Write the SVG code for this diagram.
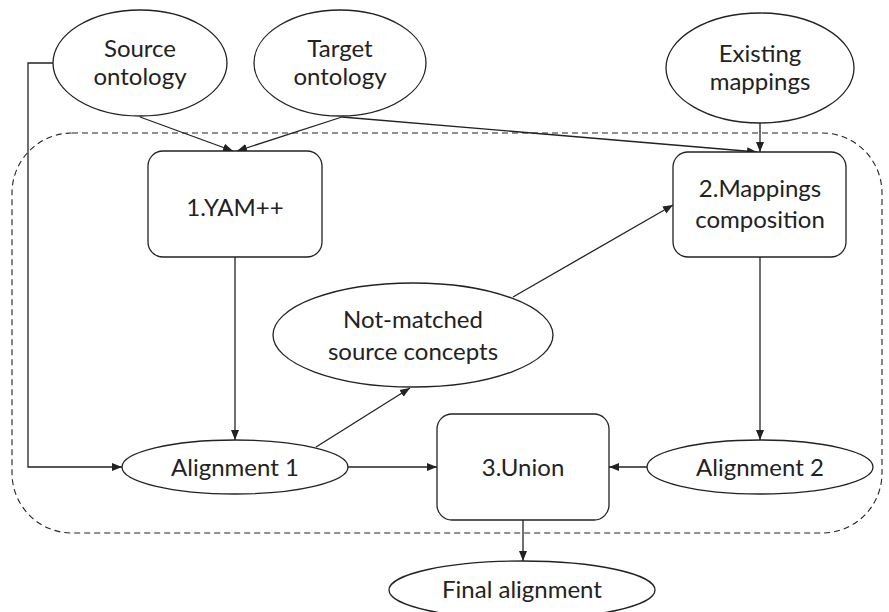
<svg xmlns="http://www.w3.org/2000/svg" width="889" height="612" viewBox="0 0 889 612">
<style>
.n{fill:#fff;stroke:#222;stroke-width:1.3}
.t{font-family:Lato,"Open Sans","Liberation Sans",sans-serif;font-size:24px;fill:#222;text-anchor:middle}
.c{fill:none;stroke:#222;stroke-width:1.3;marker-end:url(#a)}
</style>
<defs>
<marker id="a" viewBox="0 0 10 10" refX="10" refY="5" markerWidth="10" markerHeight="10" markerUnits="userSpaceOnUse" orient="auto">
<path d="M0,1 L10,5 L0,9 Z" fill="#222"/>
</marker>
</defs>
<rect id="container" x="12" y="133" width="870" height="400" rx="60" ry="60" fill="none" stroke="#222" stroke-width="1.1" stroke-dasharray="6,4"/>
<g id="connectors">
<path class="c" d="M140,117 L233,151"/>
<path class="c" d="M342,117 L237,151"/>
<path class="c" d="M342,117 L757,152"/>
<path class="c" d="M760,123 L760,152"/>
<path class="c" d="M53,63 L28,63 L28,467 L122,467"/>
<path class="c" d="M235,257 L235,440"/>
<path class="c" d="M316,447 L410,388"/>
<path class="c" d="M513,297 L673,205"/>
<path class="c" d="M348,467 L437,467"/>
<path class="c" d="M647,467 L609,467"/>
<path class="c" d="M760,257 L760,440"/>
<path class="c" d="M523,520 L523,561"/>
</g>
<g id="source">
<ellipse class="n" cx="140" cy="63" rx="87" ry="53"/>
<text class="t" x="140" y="57">Source</text>
<text class="t" x="140" y="85">ontology</text>
</g>
<g id="target">
<ellipse class="n" cx="340" cy="63" rx="86" ry="53"/>
<text class="t" x="340" y="57">Target</text>
<text class="t" x="340" y="85">ontology</text>
</g>
<g id="existing">
<ellipse class="n" cx="760" cy="68" rx="94" ry="55"/>
<text class="t" x="760" y="62">Existing</text>
<text class="t" x="760" y="90">mappings</text>
</g>
<g id="yam">
<rect class="n" x="148" y="151" width="174" height="106" rx="15" ry="15"/>
<text class="t" x="235" y="216">1.YAM++</text>
</g>
<g id="composition">
<rect class="n" x="673" y="152" width="173" height="105" rx="15" ry="15"/>
<text class="t" x="760" y="197">2.Mappings</text>
<text class="t" x="760" y="228">composition</text>
</g>
<g id="notmatched">
<ellipse class="n" cx="413" cy="335" rx="140" ry="52"/>
<text class="t" x="413" y="328">Not-matched</text>
<text class="t" x="413" y="360">source concepts</text>
</g>
<g id="alignment1">
<ellipse class="n" cx="235" cy="467" rx="113" ry="27"/>
<text class="t" x="235" y="476">Alignment 1</text>
</g>
<g id="union">
<rect class="n" x="437" y="414" width="172" height="106" rx="15" ry="15"/>
<text class="t" x="523" y="476">3.Union</text>
</g>
<g id="alignment2">
<ellipse class="n" cx="760" cy="467" rx="113" ry="27"/>
<text class="t" x="760" y="476">Alignment 2</text>
</g>
<g id="final">
<ellipse class="n" cx="522" cy="590" rx="133" ry="29"/>
<text class="t" x="522" y="598">Final alignment</text>
</g>
</svg>
